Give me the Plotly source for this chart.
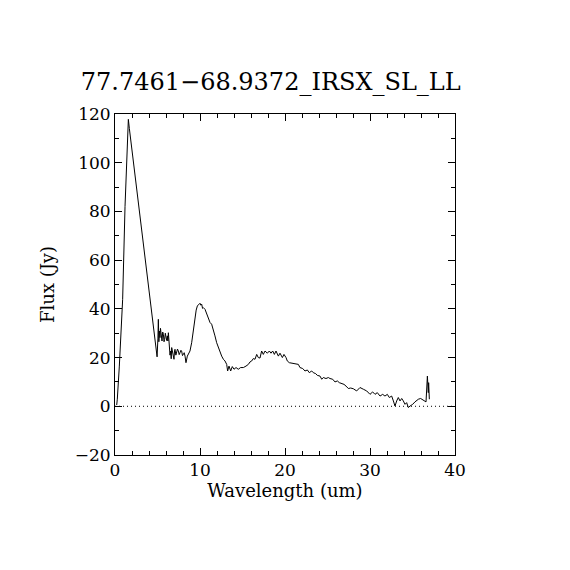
#!/usr/bin/env python3
"""IRS spectrum plot: 77.7461-68.9372, SL + LL modules."""
import plotly.graph_objects as go

TITLE = "77.7461\u221268.9372_IRSX_SL_LL"

# wavelength (um) and flux (Jy)
wavelength = [
    0.20, 0.27, 0.51, 0.90, 1.18, 1.37, 1.57, 1.69, 2.15, 2.86,
    3.92, 4.43, 4.95, 5.05, 5.10, 5.16, 5.22, 5.29, 5.35, 5.41,
    5.47, 5.53, 5.61, 5.69, 5.77, 5.84, 5.92, 6.00, 6.08, 6.16,
    6.22, 6.28, 6.39, 6.47, 6.55, 6.61, 6.67, 6.76, 6.86, 6.94,
    7.00, 7.06, 7.16, 7.26, 7.35, 7.45, 7.55, 7.65, 7.75, 7.84,
    7.94, 8.04, 8.14, 8.24, 8.35, 8.51, 8.66, 8.82, 9.02, 9.22,
    9.41, 9.55, 9.69, 9.85, 10.00, 10.10, 10.20, 10.30, 10.39, 10.59,
    10.78, 10.98, 11.18, 11.37, 11.57, 11.76, 11.96, 12.16, 12.35, 12.55,
    12.75, 12.94, 13.14, 13.25, 13.41, 13.61, 13.80, 14.00, 14.24, 14.50,
    14.78, 15.10, 15.41, 15.69, 15.88, 16.08, 16.27, 16.47, 16.67, 16.86,
    17.06, 17.25, 17.45, 17.65, 17.92, 18.16, 18.35, 18.55, 18.75, 18.94,
    19.22, 19.41, 19.69, 19.88, 20.12, 20.27, 20.51, 20.78, 21.18, 21.57,
    21.76, 22.08, 22.35, 22.63, 22.86, 23.14, 23.33, 23.61, 23.80, 24.12,
    24.32, 24.51, 24.82, 25.10, 25.29, 25.61, 25.88, 26.16, 26.39, 26.67,
    26.94, 27.18, 27.45, 27.73, 28.04, 28.43, 28.82, 29.22, 29.61, 30.00,
    30.31, 30.59, 30.86, 31.18, 31.49, 31.76, 32.04, 32.27, 32.55, 32.75,
    32.94, 33.14, 33.33, 33.53, 33.73, 33.92, 34.12, 34.31, 34.51, 34.71,
    35.02, 35.29, 35.69, 35.96, 36.27, 36.59, 36.75, 36.86, 36.90, 36.98,
]
flux = [
    0.5, 2.9, 16.5, 43.9, 82.0, 101.0, 117.8, 114.0, 101.0, 80.8,
    49.5, 34.5, 20.3, 28.0, 35.7, 26.5, 30.9, 28.2, 32.0, 30.2,
    27.5, 26.8, 30.5, 29.6, 26.5, 27.5, 30.0, 28.9, 27.0, 28.9,
    26.8, 30.2, 24.1, 21.0, 22.7, 19.5, 24.1, 22.5, 21.3, 19.3,
    22.8, 23.4, 21.0, 22.0, 23.5, 22.7, 21.2, 22.0, 23.0, 22.7,
    20.8, 21.3, 22.0, 20.6, 17.9, 20.6, 21.5, 22.7, 26.1, 31.6,
    37.1, 39.5, 41.2, 41.8, 42.3, 41.5, 41.9, 40.2, 40.5, 39.8,
    37.8, 35.7, 34.4, 33.7, 31.6, 28.9, 26.1, 24.1, 22.7, 20.6,
    19.3, 18.6, 17.2, 14.5, 16.5, 14.5, 16.3, 15.2, 15.9, 15.2,
    15.9, 15.9, 16.5, 17.2, 18.2, 18.6, 19.6, 19.3, 21.3, 20.0,
    19.8, 22.7, 21.3, 22.7, 21.8, 22.7, 21.8, 22.7, 21.3, 22.7,
    20.6, 21.8, 20.0, 21.3, 20.0, 18.6, 17.9, 17.7, 17.7, 17.2,
    15.9, 15.5, 14.5, 14.9, 13.8, 14.5, 13.8, 13.4, 12.7, 12.4,
    11.1, 11.8, 11.4, 11.8, 11.4, 11.1, 10.0, 10.4, 9.7, 9.4,
    9.0, 8.3, 7.3, 7.5, 7.2, 6.3, 7.7, 7.0, 6.3, 4.9,
    5.9, 4.9, 5.6, 4.2, 4.9, 4.2, 4.9, 3.6, 4.2, 2.2,
    0.1, 2.2, 3.6, 2.2, 3.2, 2.2, 0.8, 1.5, -0.5, 0.1,
    0.8, 1.8, 2.9, 3.2, 2.6, 1.8, 12.4, 5.6, 9.7, 2.9,
]

x_ticks = [0, 10, 20, 30, 40]
y_ticks = [-20, 0, 20, 40, 60, 80, 100, 120]
zero_line = [0, 40]

FONT = "DejaVu Serif"

fig = go.Figure()

# dotted zero level
fig.add_trace(go.Scatter(
    x=zero_line, y=[0, 0], mode="lines",
    line=dict(color="black", width=1, dash="1px,3px"),
    hoverinfo="skip", showlegend=False,
))

fig.add_trace(go.Scatter(
    x=wavelength, y=flux, mode="lines",
    line=dict(color="black", width=1),
    showlegend=False,
))

axis_common = dict(
    showline=True, linecolor="black", linewidth=1,
    mirror="allticks", ticks="inside", ticklen=7, tickcolor="black",
    showgrid=False, zeroline=False,
    tickfont=dict(family=FONT, size=17, color="black"),
)

fig.update_xaxes(
    range=[0, 40], tickvals=x_ticks,
    minor=dict(dtick=2, ticks="inside", ticklen=4, tickcolor="black", showgrid=False),
    title=dict(text="Wavelength (um)", font=dict(family=FONT, size=18, color="black"), standoff=4),
    **axis_common,
)
fig.update_yaxes(
    range=[-20, 120], tickvals=y_ticks,
    minor=dict(dtick=10, ticks="inside", ticklen=4, tickcolor="black", showgrid=False),
    title=dict(text="Flux (Jy)", font=dict(family=FONT, size=18, color="black"), standoff=15),
    **axis_common,
)

# the page adds an 8px body margin, so the plot box is set 8px up/left
fig.update_layout(
    width=570, height=570,
    margin=dict(l=107, r=123, t=106, b=123),
    paper_bgcolor="white", plot_bgcolor="white",
    title=dict(
        text=TITLE, x=0.461, xanchor="center",
        y=1 - 74 / 570, yanchor="middle", yref="container",
        font=dict(family=FONT, size=24, color="black"),
    ),
)

fig.write_html("out.html")
